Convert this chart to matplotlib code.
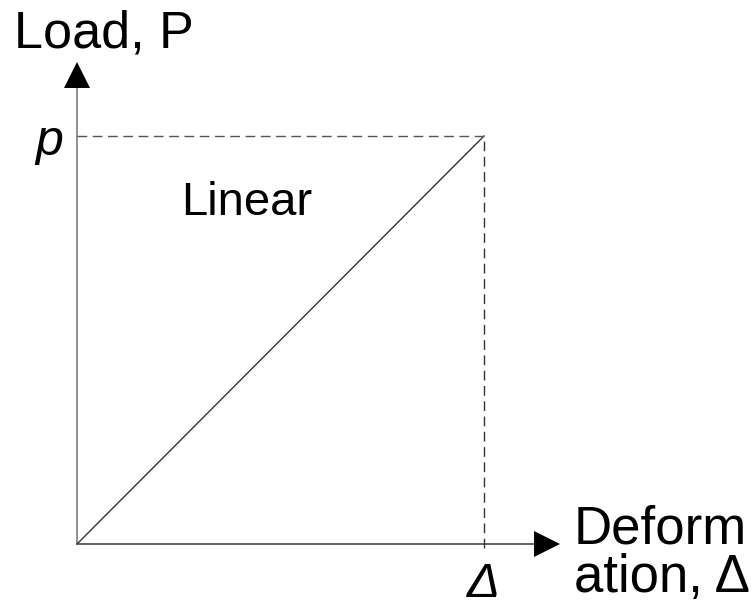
import matplotlib
matplotlib.use('Agg')
import matplotlib.pyplot as plt

# Load-deformation relation (normalised: Δ -> 1, p -> 1)
deformation = [0.0, 1.0]
load = [0.0, 1.0]
x_label = 'Deform\nation, Δ'
y_label = 'Load, P'
curve_label = 'Linear'

plt.rcParams['font.family'] = ['Liberation Sans', 'DejaVu Sans']

fig = plt.figure(figsize=(7.55, 6.09), dpi=100)
ax = fig.add_axes([0, 0, 1, 1])
ax.set_xlim(-0.1892, 1.6658)
ax.set_ylim(-0.1593, 1.3333)
ax.axis('off')

# axes with arrow heads
x_tip = 1.187
y_tip = 1.181
ax.plot([0, x_tip - 0.03], [0, 0], color='#555555', lw=1.3)
ax.plot([0, 0], [0, y_tip - 0.03], color='#888888', lw=1.3)
ax.plot([1.1536], [0], marker='>', ms=18.5, color='black', mew=0)
ax.plot([0], [1.1507], marker='^', ms=18.5, color='black', mew=0)

# curve
ax.plot(deformation, load, color='#333333', lw=1.0)

# guide lines to (Δ, p)
ax.plot([0, deformation[-1]], [load[-1], load[-1]], color='#555555', lw=1.0,
        dashes=(7, 4))
ax.plot([deformation[-1], deformation[-1]], [-0.01, load[-1]], color='#333333',
        lw=1.0, dashes=(7, 4))

# text
ax.text(-0.1548, 1.2157, y_label, fontsize=37.5, ha='left', va='baseline')
ax.text(-0.069, 0.953, 'p', fontsize=36, style='italic', ha='center',
        va='baseline')
ax.text(0.2555, 0.806, curve_label, fontsize=34, ha='left', va='baseline')
ax.text(1.220, -0.1176, x_label, fontsize=38, ha='left', va='baseline',
        linespacing=0.95)
ax.text(0.9988, -0.131, 'Δ', fontsize=35.5, style='italic',
        ha='center', va='baseline')

fig.savefig('out.png', dpi=100)
